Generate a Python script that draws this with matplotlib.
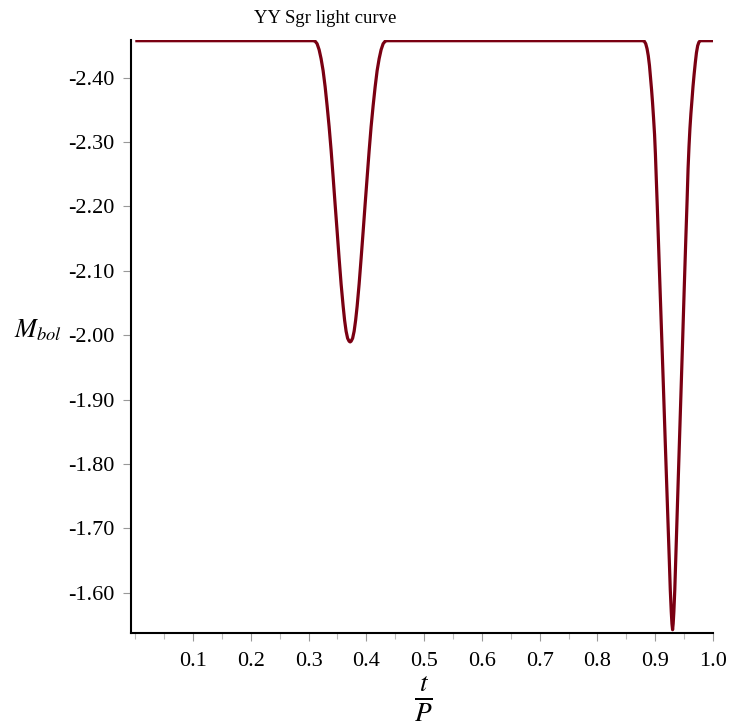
import matplotlib

matplotlib.use("Agg", force=True)
import matplotlib.pyplot as plt
from matplotlib.ticker import MultipleLocator, FixedLocator

# phase t/P and bolometric magnitude
phase = [
    0.0,
    # shallow eclipse near 0.37
    0.3078, 0.3113, 0.3147, 0.3182, 0.3216, 0.3251, 0.3286, 0.3320, 0.3355,
    0.3390, 0.3425, 0.3459, 0.3494, 0.3528, 0.3563, 0.3598, 0.3623, 0.3649,
    0.3675, 0.3701, 0.3719, 0.3736, 0.3762, 0.3788, 0.3814, 0.3840, 0.3874,
    0.3909, 0.3944, 0.3978, 0.4013, 0.4048, 0.4082, 0.4117, 0.4152, 0.4186,
    0.4221, 0.4255, 0.4290, 0.4325, 0.4359,
    # deep eclipse near 0.93
    0.8775, 0.8810, 0.8835, 0.8858, 0.8879, 0.8900, 0.8918, 0.8936, 0.8953,
    0.8970, 0.8988, 0.9003, 0.9017, 0.9035, 0.9069, 0.9104, 0.9139, 0.9173,
    0.9208, 0.9243, 0.9260, 0.9277, 0.9289, 0.9300, 0.9310, 0.9322, 0.9338,
    0.9364, 0.9398, 0.9433, 0.9468, 0.9502, 0.9528, 0.9551, 0.9568, 0.9584,
    0.9600, 0.9617, 0.9636, 0.9653, 0.9672, 0.9693, 0.9713, 0.9734, 0.9755,
    0.9779,
    1.0,
]
mbol = [
    -2.4574,
    -2.4574, -2.4566, -2.4527, -2.4434, -2.4295, -2.4109, -2.3860, -2.3566, -2.3240,
    -2.2868, -2.2450, -2.2031, -2.1612, -2.1194, -2.0791, -2.0450, -2.0233, -2.0062,
    -1.9953, -1.9907, -1.9896, -1.9907, -1.9953, -2.0062, -2.0233, -2.0450, -2.0791,
    -2.1194, -2.1612, -2.2031, -2.2450, -2.2868, -2.3240, -2.3566, -2.3860, -2.4109,
    -2.4295, -2.4434, -2.4527, -2.4566, -2.4574,
    -2.4574, -2.4566, -2.4527, -2.4450, -2.4341, -2.4186, -2.4000, -2.3814, -2.3612,
    -2.3380, -2.3116, -2.2806, -2.2450, -2.2003, -2.1087, -2.0171, -1.9254, -1.8338,
    -1.7422, -1.6505, -1.6047, -1.5705, -1.5519, -1.5426, -1.5519, -1.5705, -1.6047,
    -1.6791, -1.7767, -1.8760, -1.9752, -2.0744, -2.1473, -2.2093, -2.2589, -2.2930,
    -2.3209, -2.3442, -2.3659, -2.3860, -2.4047, -2.4233, -2.4388, -2.4496, -2.4550,
    -2.4574,
    -2.4574,
]

x_ticks = [0.1, 0.2, 0.3, 0.4, 0.5, 0.6, 0.7, 0.8, 0.9, 1.0]
y_ticks = [-2.40, -2.30, -2.20, -2.10, -2.00, -1.90, -1.80, -1.70, -1.60]

plt.rcParams.update({
    "font.family": "Liberation Serif",
    "mathtext.fontset": "stix",
})

fig = plt.figure(figsize=(7.29, 7.26), dpi=100)
ax = fig.add_axes([0.1797, 0.1285, 0.7984, 0.8164])

ax.plot(phase, mbol, color="#7a0012", linewidth=2.3,
        solid_joinstyle="round", solid_capstyle="butt")

ax.set_xlim(-0.0074, 1.0)
ax.set_ylim(-1.538, -2.4585)

ax.spines["top"].set_visible(False)
ax.spines["right"].set_visible(False)
ax.spines["left"].set_linewidth(1.5)
ax.spines["bottom"].set_linewidth(1.5)

ax.xaxis.set_major_locator(FixedLocator(x_ticks))
ax.xaxis.set_minor_locator(MultipleLocator(0.05))
ax.set_xticklabels([f"{v:.1f}" for v in x_ticks])
ax.yaxis.set_major_locator(FixedLocator(y_ticks))
ax.set_yticklabels([f"{v:.2f}" for v in y_ticks])

ax.tick_params(axis="both", which="major", color="#999999", length=6, width=0.8,
               labelsize=16, pad=6)
ax.tick_params(axis="x", which="major", pad=8)
ax.tick_params(axis="x", which="minor", color="#bbbbbb", length=4, width=0.8)

fig.text(0.446, 0.975, "YY Sgr light curve", ha="center", va="center", fontsize=13.5)
fig.text(0.019, 0.545, r"$M_{bol}$", ha="left", va="center", fontsize=19)
fig.text(0.580, 0.036, r"$\frac{t}{P}$", ha="center", va="center", fontsize=28)

fig.savefig("out.png", dpi=100)
